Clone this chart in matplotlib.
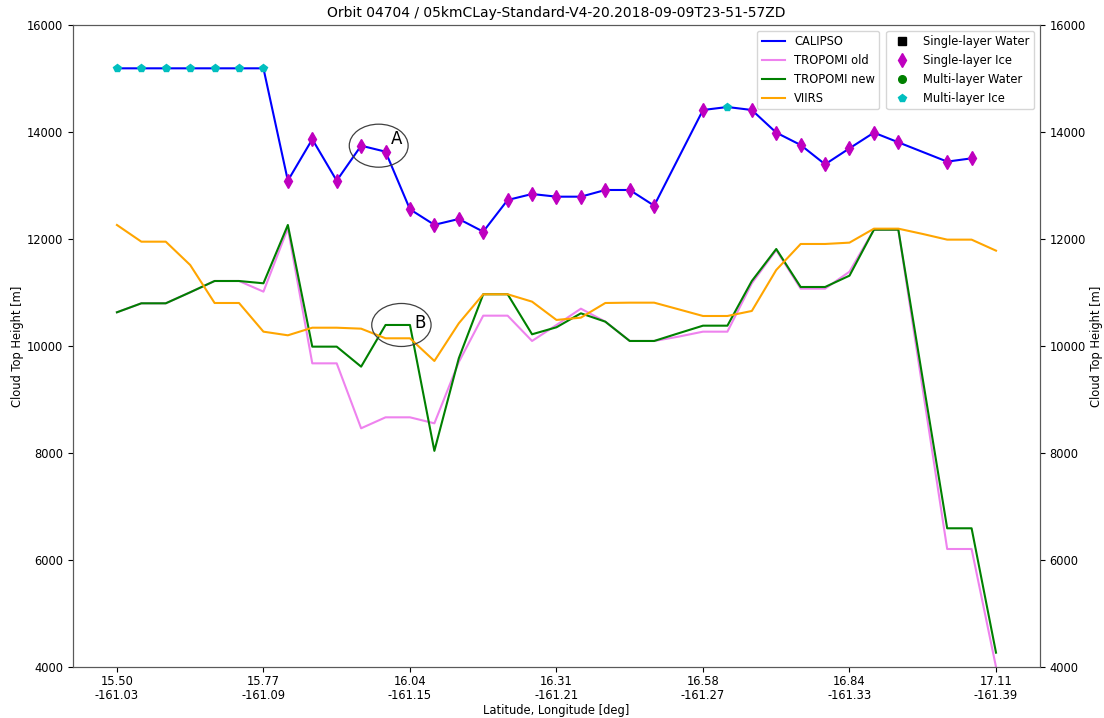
import numpy as np
import matplotlib
matplotlib.use("Agg")
import matplotlib.pyplot as plt
from matplotlib.patches import Ellipse

# ---- data ----
lat_labels = ["15.50", "15.77", "16.04", "16.31", "16.58", "16.84", "17.11"]
lon_labels = ["-161.03", "-161.09", "-161.15", "-161.21", "-161.27", "-161.33", "-161.39"]

idx = list(range(37))

calipso_idx = [0, 1, 2, 3, 4, 5, 6, 7, 8, 9, 10, 11, 12, 13, 14, 15, 16, 17, 18,
               19, 20, 21, 22, 24, 25, 26, 27, 28, 29, 30, 31, 32, 34, 35]
calipso = [15190, 15190, 15190, 15190, 15190, 15190, 15190, 13090, 13864, 13090,
           13744, 13632, 12555, 12265, 12374, 12137, 12729, 12841, 12791, 12791,
           12916, 12916, 12623, 14411, 14467, 14411, 13988, 13757, 13396, 13695,
           13988, 13807, 13446, 13508]
# phase: 'SI' single-layer ice, 'MI' multi-layer ice
calipso_phase = ["MI", "MI", "MI", "MI", "MI", "MI", "MI", "SI", "SI", "SI",
                 "SI", "SI", "SI", "SI", "SI", "SI", "SI", "SI", "SI", "SI",
                 "SI", "SI", "SI", "SI", "MI", "SI", "SI", "SI", "SI", "SI",
                 "SI", "SI", "SI", "SI"]

tropomi_old = [10630, 10798, 10798, 11004, 11215, 11215, 11016, 12200, 9676, 9676,
               8462, 8667, 8667, 8555, 9700, 10567, 10567, 10094, 10393, 10698,
               10455, 10094, 10094, 10175, 10268, 10268, 11172, 11794, 11072, 11072,
               11389, 12174, 12174, 9190, 6206, 6206, 4000]
tropomi_new = [10630, 10798, 10798, 11004, 11215, 11215, 11172, 12262, 9988, 9988,
               9614, 10393, 10393, 8040, 9770, 10967, 10967, 10219, 10350, 10611,
               10455, 10094, 10094, 10238, 10380, 10380, 11215, 11813, 11103, 11103,
               11315, 12174, 12174, 9380, 6593, 6593, 4268]
viirs = [12262, 11950, 11950, 11514, 10804, 10804, 10268, 10200, 10342, 10342,
         10324, 10144, 10144, 9720, 10424, 10967, 10967, 10829, 10487, 10530,
         10804, 10810, 10810, 10686, 10561, 10561, 10655, 11421, 11907, 11907,
         11932, 12193, 12193, 12094, 11988, 11988, 11782]

title = "Orbit 04704 / 05kmCLay-Standard-V4-20.2018-09-09T23-51-57ZD"

FS = 8.3
fig = plt.figure(figsize=(11.04, 7.18), dpi=100)
ax = fig.add_axes([0.0661, 0.071, 0.8759, 0.8942])

LW = 1.5
l1, = ax.plot(calipso_idx, calipso, color="blue", lw=LW, label="CALIPSO", zorder=3)
l2, = ax.plot(idx, tropomi_old, color="violet", lw=LW, label="TROPOMI old", zorder=2)
l3, = ax.plot(idx, tropomi_new, color="green", lw=LW, label="TROPOMI new", zorder=2)
l4, = ax.plot(idx, viirs, color="orange", lw=LW, label="VIIRS", zorder=2)

si_x = [x for x, p in zip(calipso_idx, calipso_phase) if p == "SI"]
si_y = [y for y, p in zip(calipso, calipso_phase) if p == "SI"]
mi_x = [x for x, p in zip(calipso_idx, calipso_phase) if p == "MI"]
mi_y = [y for y, p in zip(calipso, calipso_phase) if p == "MI"]
ax.plot(si_x, si_y, ls="none", marker="d", color="m", ms=7, zorder=4)
ax.plot(mi_x, mi_y, ls="none", marker="p", color="c", ms=6, zorder=4)

m1, = ax.plot([], [], ls="none", marker="s", color="k", ms=5.5, label="Single-layer Water")
m2, = ax.plot([], [], ls="none", marker="d", color="m", ms=7, label="Single-layer Ice")
m3, = ax.plot([], [], ls="none", marker="o", color="green", ms=5.5, label="Multi-layer Water")
m4, = ax.plot([], [], ls="none", marker="p", color="c", ms=6, label="Multi-layer Ice")

ax.add_patch(Ellipse((10.72, 13744), 2.41, 804, fill=False, edgecolor="0.25", lw=0.9, zorder=5))
ax.text(11.45, 13869, "A", fontsize=12, ha="center", va="center", zorder=6)
ax.add_patch(Ellipse((11.65, 10393), 2.43, 804, fill=False, edgecolor="0.25", lw=0.9, zorder=5))
ax.text(12.4, 10436, "B", fontsize=12, ha="center", va="center", zorder=6)

ax.set_xlim(-1.8, 37.8)
ax.set_ylim(4000, 16000)
ticks = list(range(0, 37, 6))
ax.set_xticks(ticks)
ax.set_xticklabels([f"{a}\n{b}" for a, b in zip(lat_labels, lon_labels)], fontsize=FS,
                   linespacing=1.1)
ax.tick_params(axis="x", pad=2.5)
ax.set_yticks(range(4000, 16001, 2000))
ax.tick_params(axis="y", labelsize=FS)
ax.set_xlabel("Latitude, Longitude [deg]", fontsize=FS, labelpad=1)
ax.set_ylabel("Cloud Top Height [m]", fontsize=FS, labelpad=2)
ax.set_title(title, fontsize=10)

ax2 = ax.twinx()
ax2.set_ylim(4000, 16000)
ax2.set_yticks(range(4000, 16001, 2000))
ax2.tick_params(axis="y", labelsize=FS)
ax2.set_ylabel("Cloud Top Height [m]", fontsize=FS, labelpad=3)

for a in (ax, ax2):
    for s in a.spines.values():
        s.set_color("0.35")

leg1 = ax2.legend(handles=[l1, l2, l3, l4], loc="upper right",
                  bbox_to_anchor=(0.84, 1.0), fontsize=FS)
ax2.add_artist(leg1)
leg2 = ax2.legend(handles=[m1, m2, m3, m4], loc="upper right",
                  bbox_to_anchor=(1.0, 1.0), fontsize=FS)

fig.savefig("out.png", dpi=100)
